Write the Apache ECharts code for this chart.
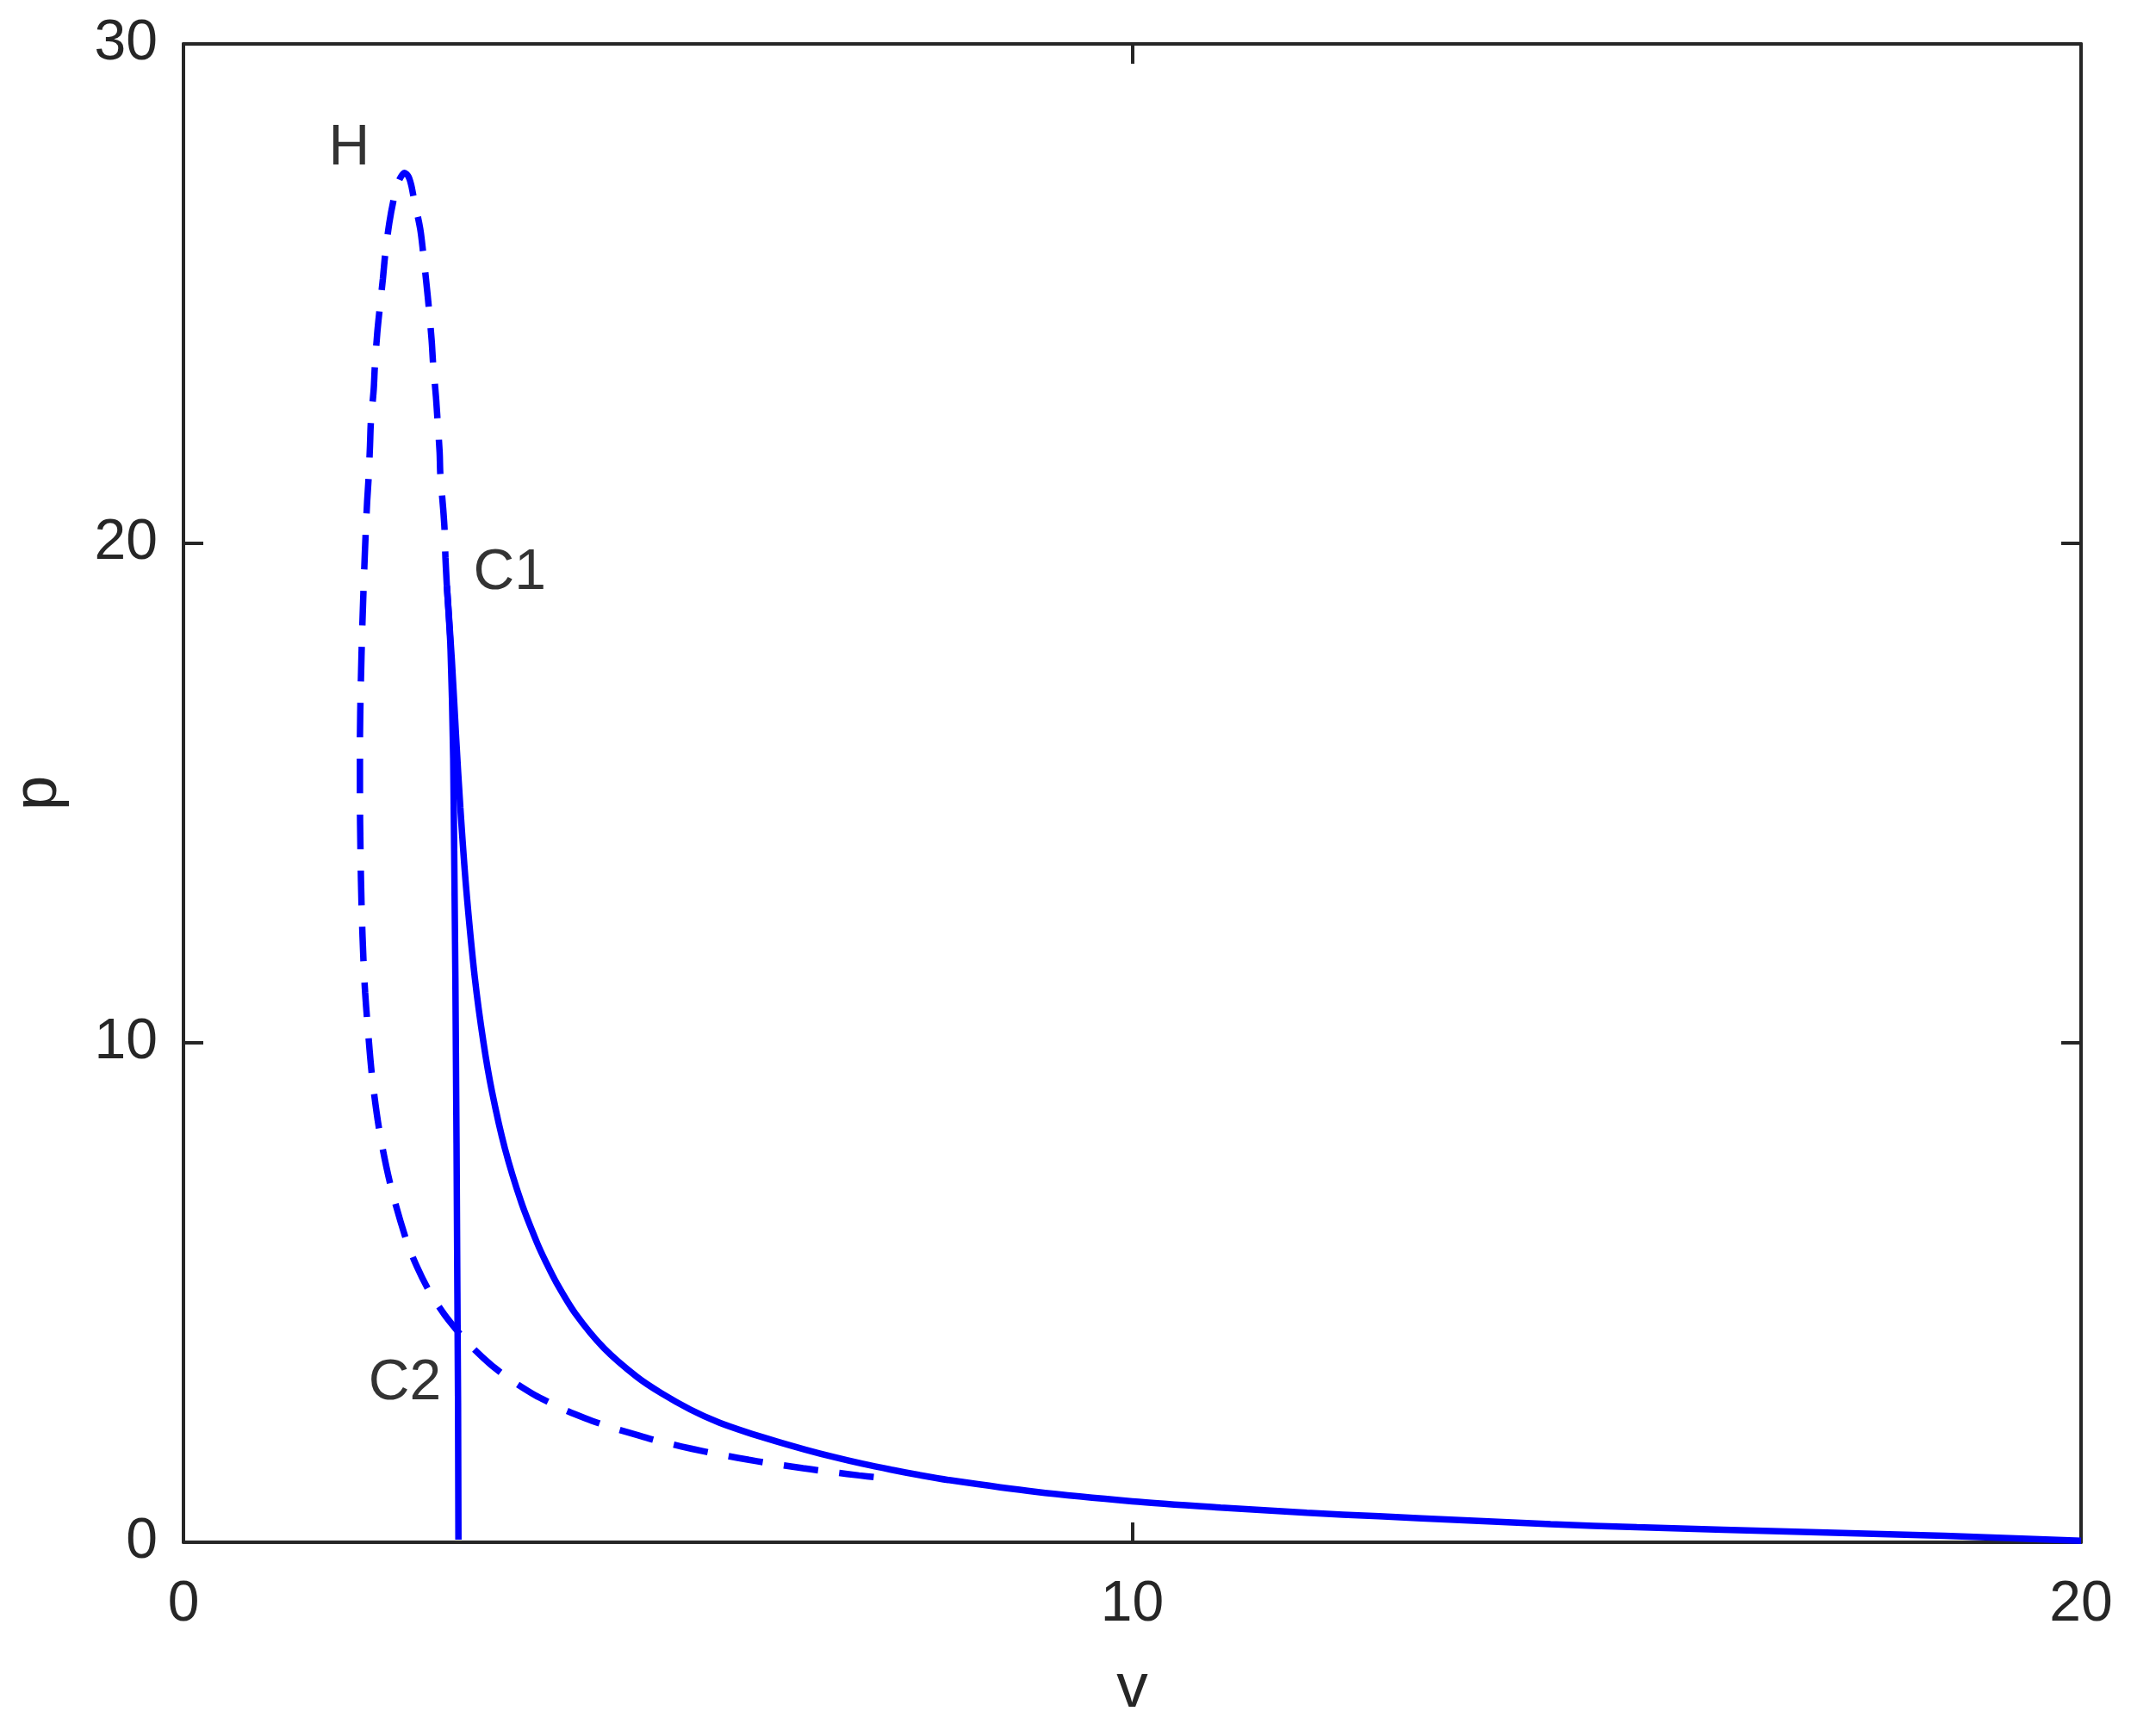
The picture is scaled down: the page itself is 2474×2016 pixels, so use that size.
<!DOCTYPE html>
<html>
<head>
<meta charset="utf-8">
<script src="https://cdn.jsdelivr.net/npm/echarts@6/dist/echarts.min.js"></script>
<style>
html,body{margin:0;padding:0;background:#fff;}
#chart{width:2474px;height:2016px;}
</style>
</head>
<body>
<div id="chart"></div>
<script>
// Axis ticks
var xTicks = [0, 10, 20];
var yTicks = [0, 10, 20, 30];

// Dashed curve: from C1 up to H, down the left branch, through C2, to the end
var dashedV = [2.776, 2.761, 2.752, 2.737, 2.707, 2.700, 2.677, 2.661, 2.631, 2.616, 2.586, 2.562, 2.525, 2.495, 2.426, 2.40, 2.37, 2.33, 2.28, 2.25, 2.217, 2.169, 2.126, 2.102, 2.066, 2.042, 2.017, 2.005, 1.975, 1.966, 1.951, 1.936, 1.920, 1.905, 1.884, 1.869, 1.860, 1.860, 1.866, 1.878, 1.899, 1.915, 1.936, 1.987, 2.066, 2.184, 2.347, 2.46, 2.592, 2.75, 2.879, 2.925, 3.05, 3.23, 3.357, 3.49, 3.71, 3.857, 4.02, 4.24, 4.40, 4.56, 4.81, 4.975, 5.13, 5.37, 5.55, 5.72, 5.96, 6.125, 6.31, 6.53, 6.70, 6.87, 7.12, 7.29, 7.47];
var dashedP = [19.15, 19.72, 20.27, 20.70, 21.39, 21.82, 22.49, 22.94, 23.60, 24.06, 24.72, 25.18, 25.84, 26.30, 26.93, 27.18, 27.35, 27.42, 27.30, 27.12, 26.90, 26.41, 25.78, 25.30, 24.66, 24.20, 23.54, 23.08, 22.42, 21.96, 21.30, 20.84, 20.18, 19.46, 18.28, 17.16, 16.04, 14.92, 13.80, 12.68, 11.56, 11.00, 10.46, 9.34, 8.23, 7.14, 6.06, 5.52, 5.02, 4.56, 4.25, 4.15, 3.89, 3.57, 3.38, 3.20, 2.94, 2.80, 2.65, 2.48, 2.37, 2.27, 2.13, 2.04, 1.97, 1.866, 1.795, 1.732, 1.650, 1.598, 1.543, 1.483, 1.438, 1.397, 1.338, 1.302, 1.265];

// Solid near-vertical branch from C1 to the v axis
var branchV = [2.776, 2.795, 2.813, 2.830, 2.843, 2.853, 2.866, 2.878, 2.887, 2.894, 2.898];
var branchP = [19.15, 18.6, 18.0, 16.9, 15.7, 13.9, 11.3, 8.0, 5.0, 2.78, 0.05];

// Solid curve from C1 to v = 20
var curveV = [2.776, 2.828, 2.873, 2.918, 2.979, 3.071, 3.161, 3.251, 3.387, 3.56, 3.73, 3.82, 3.93, 4.13, 4.43, 4.78, 5.04, 5.34, 5.64, 5.94, 6.25, 6.55, 6.85, 7.15, 7.46, 7.76, 8.06, 8.97, 10.0, 10.93, 11.84, 12.6, 13.5, 14.41, 15.32, 16.23, 17.4, 18.56, 20.0];
var curveP = [19.15, 17.68, 16.14, 14.71, 13.11, 11.30, 10.02, 9.03, 7.89, 6.81, 5.98, 5.61, 5.20, 4.58, 3.89, 3.31, 2.98, 2.66, 2.40, 2.20, 2.02, 1.857, 1.708, 1.574, 1.452, 1.344, 1.247, 1.012, 0.82, 0.695, 0.59, 0.52, 0.44, 0.36, 0.30, 0.25, 0.19, 0.13, 0.03];

// Point labels
var labelNames = ['H', 'C1', 'C2'];
var labelV = [1.53, 3.055, 1.95];
var labelP = [27.9, 19.4, 3.18];

function pairs(xs, ys) { return xs.map(function (x, i) { return [x, ys[i]]; }); }

var FONT = "'Liberation Sans', Helvetica, Arial, sans-serif";
var AX = '#262626';
var BLUE = '#0000ff';
var LW = 7.5;

function xAxisDef(pos, labels) {
  return {
    type: 'value', position: pos, min: 0, max: 20, interval: 10,
    axisLine: { show: true, onZero: false, lineStyle: { color: AX, width: 4 } },
    axisTick: { show: true, inside: true, length: 23, lineStyle: { color: AX, width: 4 } },
    axisLabel: { show: labels, margin: 40, color: AX, fontSize: 66, fontFamily: FONT },
    splitLine: { show: false },
    name: labels ? 'v' : '', nameLocation: 'middle', nameGap: 134,
    nameTextStyle: { color: AX, fontSize: 73, fontFamily: FONT }
  };
}
function yAxisDef(pos, labels) {
  return {
    type: 'value', position: pos, min: 0, max: 30, interval: 10,
    axisLine: { show: true, onZero: false, lineStyle: { color: AX, width: 4 } },
    axisTick: { show: true, inside: true, length: 23, lineStyle: { color: AX, width: 4 } },
    axisLabel: { show: labels, margin: 30, color: AX, fontSize: 66, fontFamily: FONT },
    splitLine: { show: false },
    name: labels ? 'p' : '', nameLocation: 'middle', nameGap: 132,
    nameTextStyle: { color: AX, fontSize: 73, fontFamily: FONT }
  };
}

var chart = echarts.init(document.getElementById('chart'), null, { renderer: 'canvas' });
chart.setOption({
  animation: false,
  backgroundColor: '#ffffff',
  grid: { left: 212, right: 58, top: 51, bottom: 225, containLabel: false },
  xAxis: [xAxisDef('bottom', true), xAxisDef('top', false)],
  yAxis: [yAxisDef('left', true), yAxisDef('right', false)],
  series: [
    {
      type: 'line', xAxisIndex: 0, yAxisIndex: 0, showSymbol: false, smooth: 0.3,
      data: pairs(dashedV, dashedP),
      lineStyle: { color: BLUE, width: LW, type: [40, 25], cap: 'butt' }
    },
    {
      type: 'line', xAxisIndex: 0, yAxisIndex: 0, showSymbol: false,
      data: pairs(branchV, branchP),
      lineStyle: { color: BLUE, width: LW }
    },
    {
      type: 'line', xAxisIndex: 0, yAxisIndex: 0, showSymbol: false, smooth: 0.3,
      data: pairs(curveV, curveP),
      lineStyle: { color: BLUE, width: LW }
    },
    {
      type: 'scatter', xAxisIndex: 0, yAxisIndex: 0, symbolSize: 0,
      data: labelNames.map(function (n, i) { return { name: n, value: [labelV[i], labelP[i]] }; }),
      label: {
        show: true, position: 'right', distance: 0,
        formatter: function (p) { return p.name; },
        color: '#000000', fontSize: 66, fontFamily: FONT, verticalAlign: 'middle', align: 'left'
      }
    }
  ]
});
</script>
</body>
</html>
